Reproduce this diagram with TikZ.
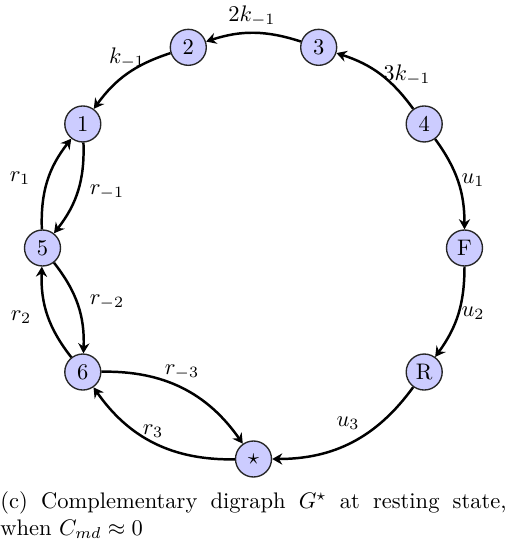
\documentclass[tikz,border=0pt]{standalone}
\usetikzlibrary{arrows.meta,calc}
\begin{document}
\begin{tikzpicture}[x=0.4444pt,y=0.4444pt,
  state/.style={circle,draw=black!85,line width=0.6pt,fill=blue!20,minimum size=16pt,inner sep=0pt},
  conn/.style={line width=1.1pt,-{Stealth[length=4.5pt,width=5pt,inset=1.5pt]}},
  lbl/.style={inner sep=0pt}]
\useasboundingbox (0,0) rectangle (506,543);
\coordinate (c) at (253.5,295);
\node[state] (n1) at ($(c)+(144:211)$) {1};
\node[state] (n2) at ($(c)+(108:211)$) {2};
\node[state] (n3) at ($(c)+(72:211)$) {3};
\node[state] (n4) at ($(c)+(36:211)$) {4};
\node[state] (nF) at ($(c)+(0:211)$) {F};
\node[state] (nR) at ($(c)+(-36:211)$) {R};
\node[state] (ns) at ($(c)+(270:211)$) {$\star$};
\node[state] (n5) at ($(c)+(180:211)$) {5};
\node[state] (n6) at ($(c)+(216:211)$) {6};
% circle edges
\draw[conn] (n3) to[bend right=18] (n2);
\draw[conn] (n2) to[bend right=18] (n1);
\draw[conn] (n4) to[bend right=18] (n3);
\draw[conn] (n4) to[bend left=18] (nF);
\draw[conn] (nF) to[bend left=18] (nR);
\draw[conn] (nR) to[bend left=27] (ns);
% left pairs
\draw[conn] (n5) to[bend left=20] (n1);
\draw[conn] (n1) to[bend left=20] (n5);
\draw[conn] (n5) to[bend left=20] (n6);
\draw[conn] (n6) to[bend left=20] (n5);
\draw[conn] (n6) to[bend left=28] (ns);
\draw[conn] (ns) to[bend left=28] (n6);
% labels
\node[lbl] (l32) at (252,527) {$2k_{-1}$};
\node[lbl] (l21) at (127,485) {$k_{-1}$};
\node[lbl] (l43) at (407,468) {$3k_{-1}$};
\node[lbl] (l4F) at (473,363) {$u_1$};
\node[lbl] (lFR) at (473,230) {$u_2$};
\node[lbl] (lRs) at (348,120) {$u_3$};
\node[lbl] (l51) at (20,365) {$r_1$};
\node[lbl] (l15) at (107,351) {$r_{-1}$};
\node[lbl] (l56) at (107,241) {$r_{-2}$};
\node[lbl] (l65) at (21,226) {$r_2$};
\node[lbl] (l6s) at (182,171) {$r_{-3}$};
\node[lbl] (ls6) at (153,112) {$r_3$};
% caption
\node[anchor=north west,inner sep=0pt,text width=224.9pt,align=justify] (cap) at (0,52)
  {(c) Complementary digraph $G^\star$ at resting state, when $C_{md} \approx 0$};
\end{tikzpicture}
\end{document}
